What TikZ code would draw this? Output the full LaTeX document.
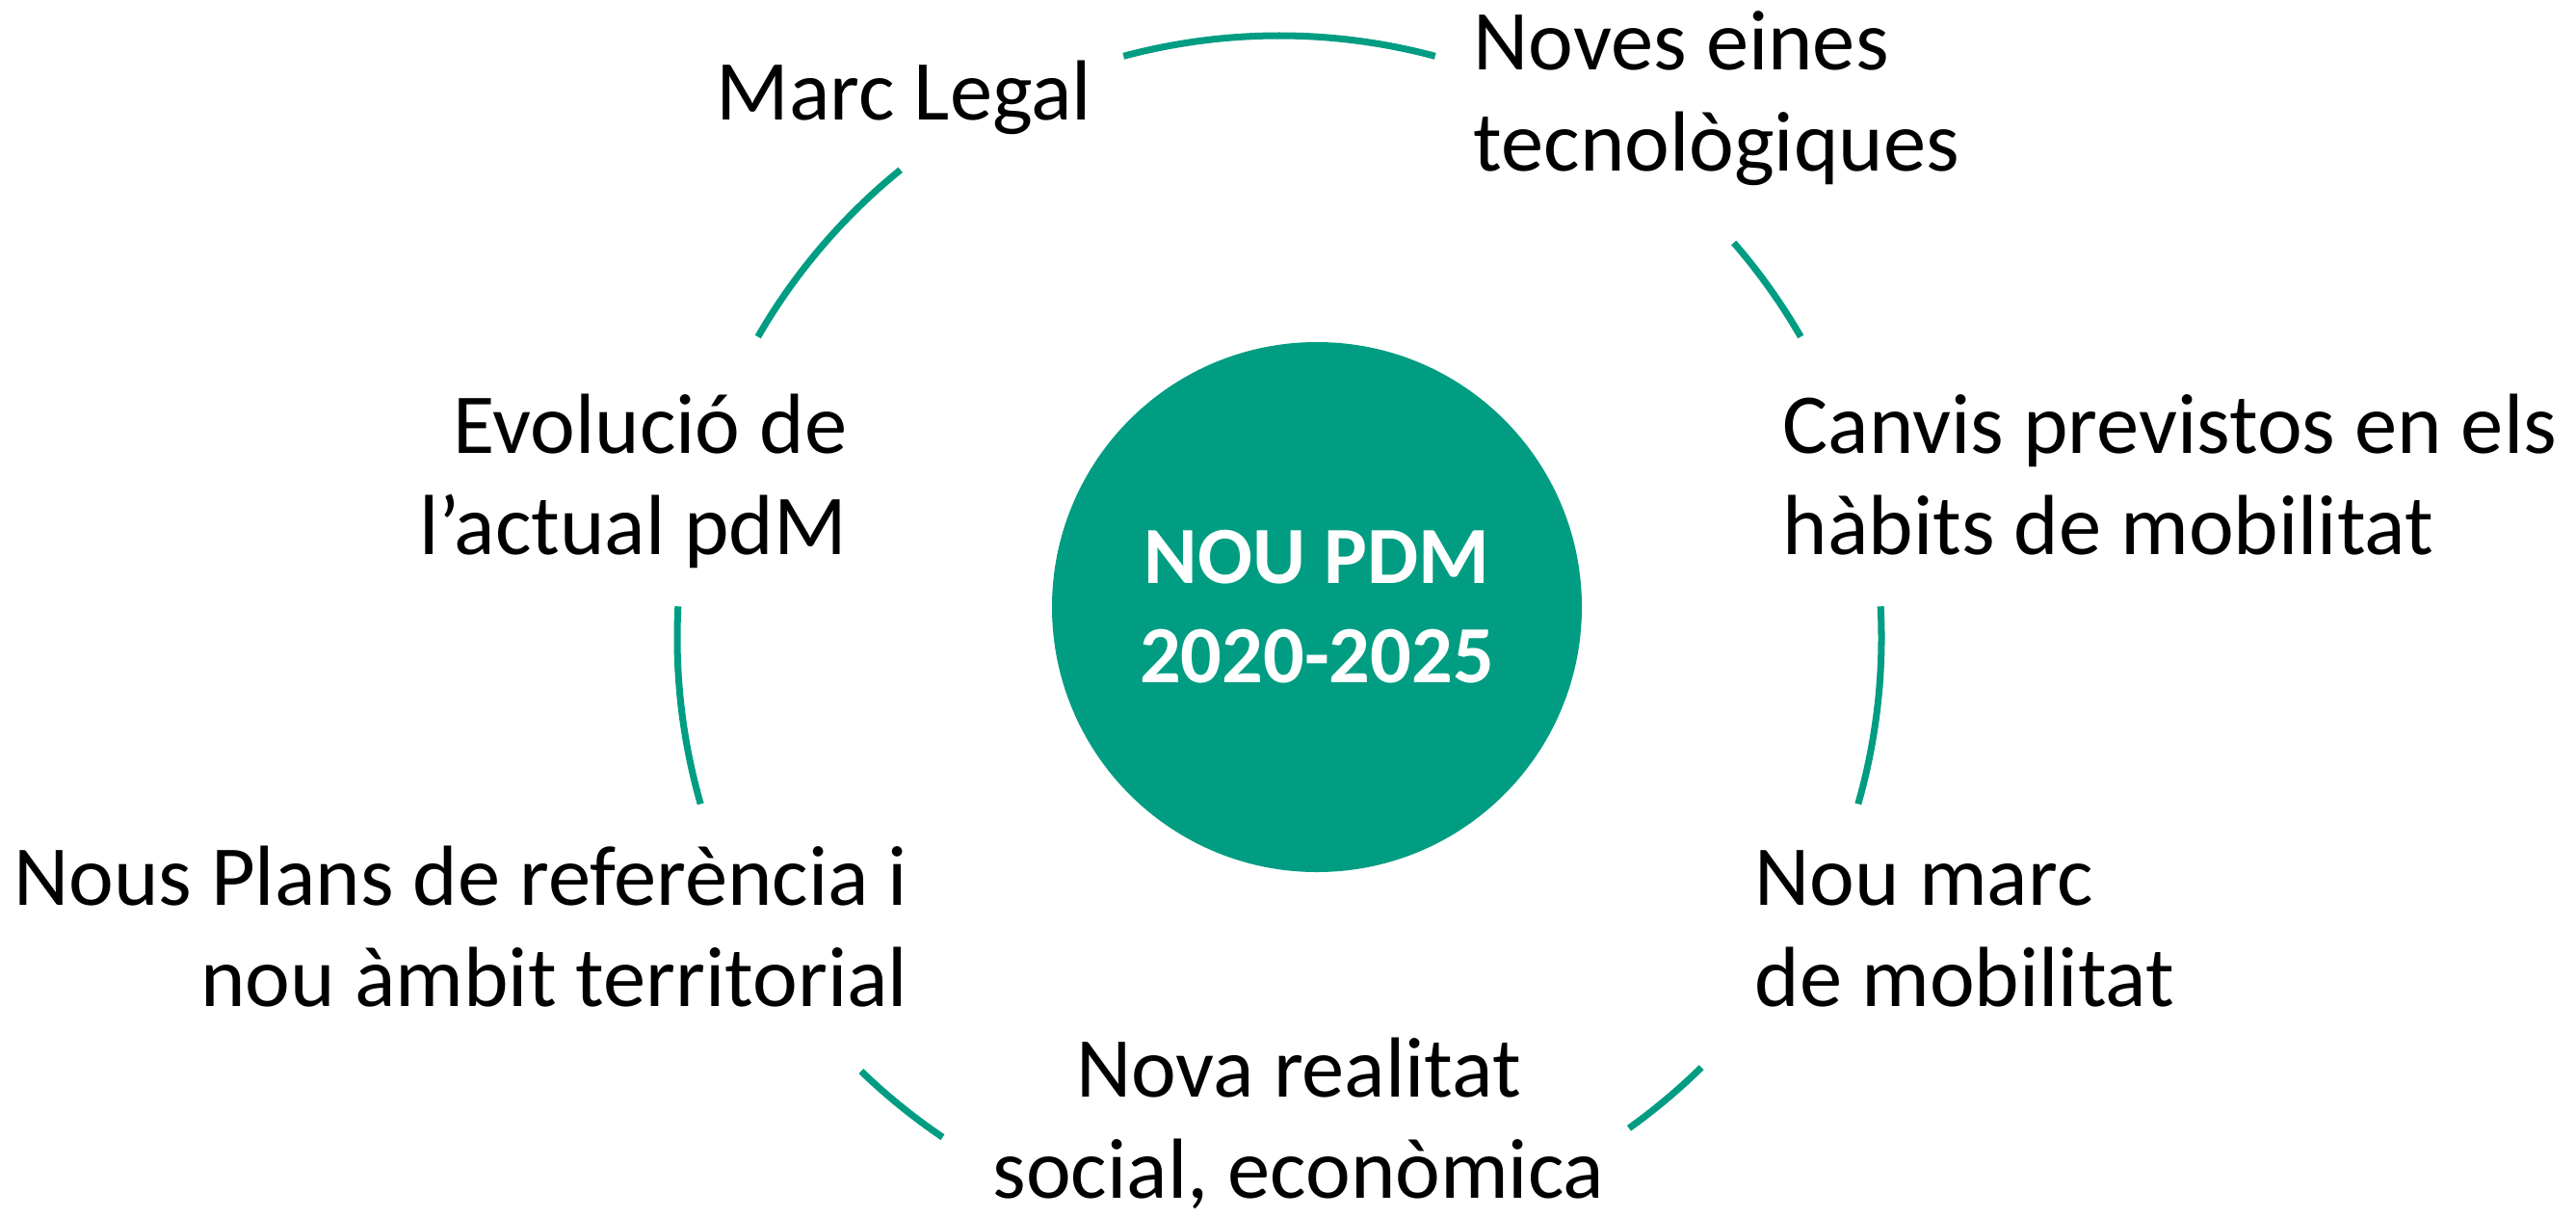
\documentclass[tikz,border=0pt]{standalone}
\usepackage{fontspec}
\setmainfont{Carlito}
\definecolor{pdmgreen}{RGB}{0,157,130}
\begin{document}
\begin{tikzpicture}[
        declare function = {
            ringr = 6.25;
        },
        ring/.style = {pdmgreen, line width=2pt},
        item/.style = {font=\fontsize{25.2}{29.6}\selectfont, inner sep=0pt},
    ]
    \path[use as bounding box] (0,0) rectangle (26.74,12.63);
    \coordinate (ring) at (13.28,6.01);
    \node[circle, fill=pdmgreen, minimum size=5.5cm, inner sep=0pt, align=center, text=white, font=\fontsize{24}{29.3}\selectfont\bfseries] (pdm) at (13.67,6.33) {NOU PDM\\2020-2025};
    \foreach \a/\b in {75/105, 129/150, 177/196, 226/236, 305.5/314.5, 344/363, 30/41}
        \draw[ring] (ring) ++(\a:ringr) arc[start angle=\a, end angle=\b, radius=ringr];
    \node[item, anchor=base west] (marc) at (7.43,11.39) {Marc Legal};
    \node[item, anchor=base west, align=left] (eines) at (15.29,10.86) {Noves eines\\tecnològiques};
    \node[item, anchor=base east, align=right] (evol) at (8.80,6.88) {Evolució de\\l’actual pdM};
    \node[item, anchor=base west, align=left] (habits) at (18.50,6.88) {Canvis previstos en els\\hàbits de mobilitat};
    \node[item, anchor=base east, align=right] (plans) at (9.43,2.19) {Nous Plans de referència i\\nou àmbit territorial};
    \node[item, anchor=base west, align=left] (marcmob) at (18.21,2.19) {Nou marc\\de mobilitat};
    \node[item, anchor=base, align=center] (realitat) at (13.48,0.2) {Nova realitat\\social, econòmica};
\end{tikzpicture}
\end{document}
